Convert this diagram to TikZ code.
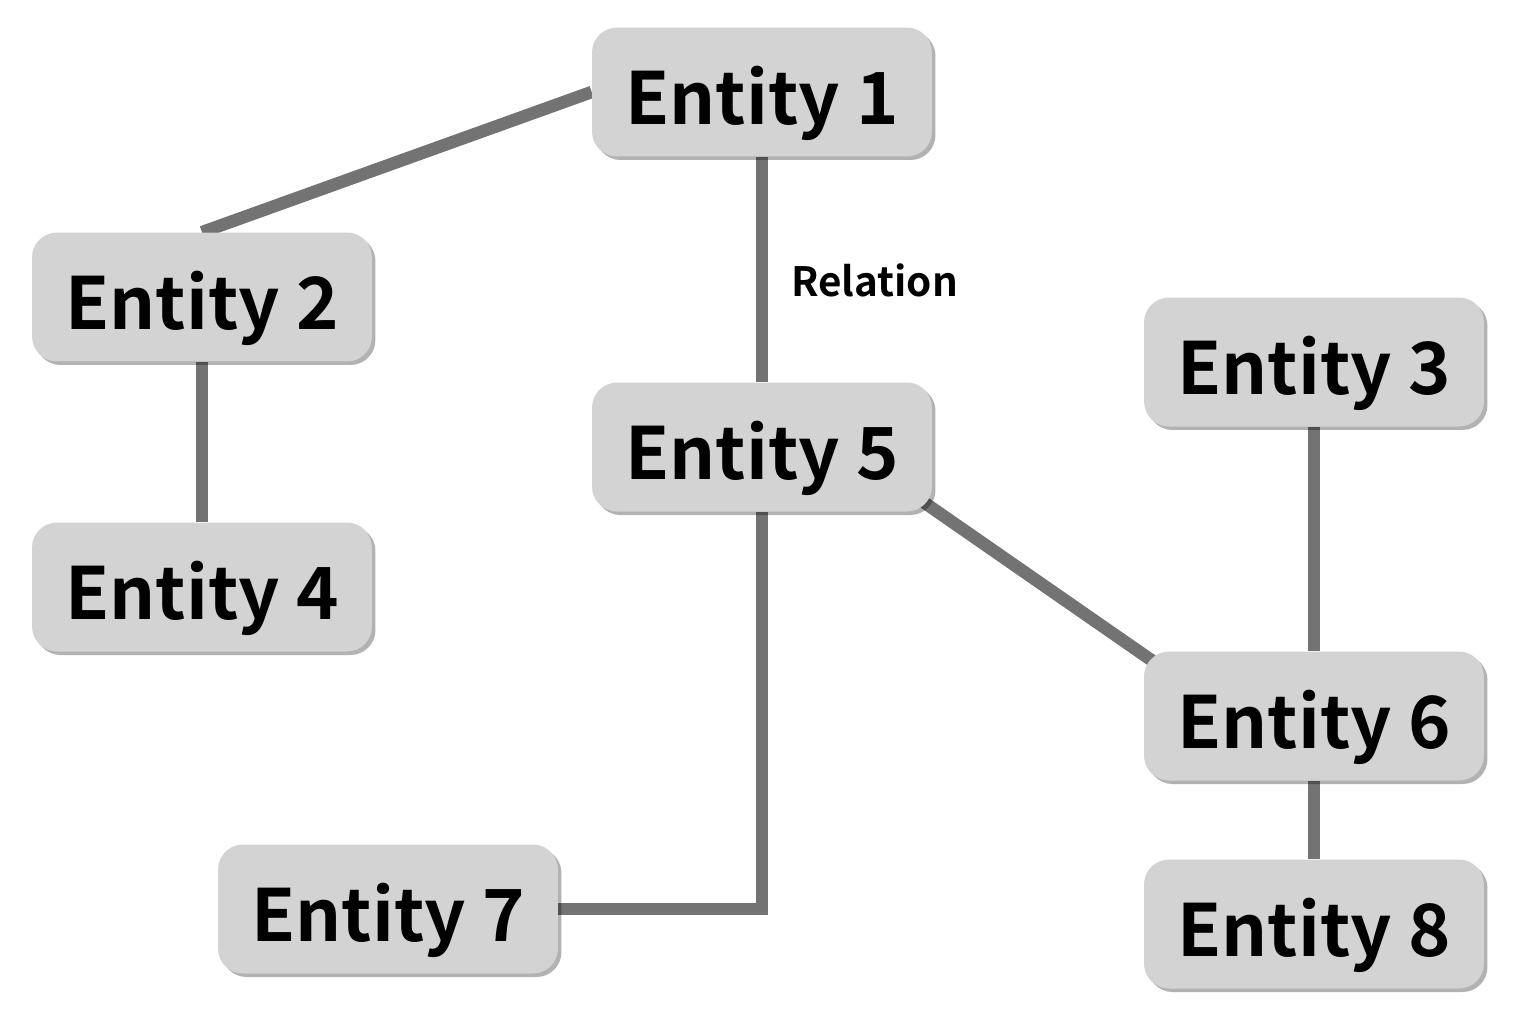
\documentclass[tikz,border=0pt]{standalone}
\usepackage{fontspec}
\setmainfont{Noto Sans CJK SC}[BoldFont={Noto Sans CJK SC Bold}]
\usetikzlibrary{shadows,backgrounds}

\definecolor{boxgray}{RGB}{211,211,211}
\definecolor{linkgray}{RGB}{115,115,115}

\tikzset{
    entity/.style={rectangle, rounded corners=0.5cm, fill=boxgray,
        minimum width=6.8cm, minimum height=2.58cm, inner sep=0pt,
        text height=1.28cm, text depth=0cm,
        font=\fontsize{41}{46}\selectfont\bfseries,
        drop shadow={shadow xshift=0.07cm, shadow yshift=-0.07cm, opacity=0.3, fill=black}},
    link/.style={draw=linkgray, line width=0.25cm},
    relation/.style={font=\fontsize{23}{26}\selectfont\bfseries, inner sep=0pt}
}

\begin{document}
\begin{tikzpicture}[x=0.02cm, y=-0.02cm]
    \useasboundingbox (0,0) rectangle (1523,1022);
    % Nodes
    \node[entity] (e1) at (762,92) {Entity 1};
    \node[entity] (e2) at (202,297) {Entity 2};
    \node[entity] (e3) at (1314,362) {Entity 3};
    \node[entity] (e4) at (202,587) {Entity 4};
    \node[entity] (e5) at (762,447) {Entity 5};
    \node[entity] (e6) at (1314,716) {Entity 6};
    \node[entity] (e7) at (388,909) {Entity 7};
    \node[entity] (e8) at (1314,924) {Entity 8};
    % Edges
    \begin{pgfonlayer}{background}
        \draw[link] (e1.west) -- (e2.north);
        \draw[link] (e1.south) -- node[relation, right, xshift=0.46cm, pos=0.55] {Relation} (e5.north);
        \draw[link] (e2.south) -- (e4.north);
        \draw[link] (e5.south) |- (e7.east);
        \draw[link] ([shift={(-12,-12)}]e5.south east) -- ([shift={(12,12)}]e6.north west);
        \draw[link] (e3.south) -- (e6.north);
        \draw[link] (e6.south) -- (e8.north);
    \end{pgfonlayer}
\end{tikzpicture}
\end{document}
